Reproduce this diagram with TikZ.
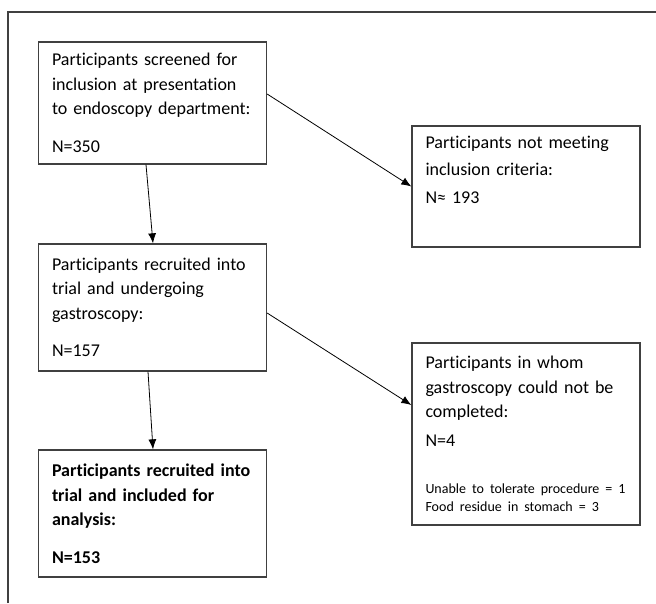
\documentclass[tikz,border=0pt]{standalone}
\usepackage{fontspec}
\setmainfont[Ligatures=NoCommon]{Carlito}
\usetikzlibrary{arrows.meta}
\definecolor{boxgray}{HTML}{404040}
\newcommand{\bigtext}{\fontsize{18}{24.5}\selectfont}
\newcommand{\smalltext}{\fontsize{14}{18}\selectfont}
\tikzset{
	box/.style={draw=boxgray, line width=1.3pt, rectangle, align=left,
		inner xsep=13.5pt, inner ysep=0pt, text width=201pt, font=\bigtext},
	flow/.style={->, line width=0.8pt, black},
}
\begin{document}
\begin{tikzpicture}[x=1pt,y=-1pt,>={Latex[length=10pt,width=8pt]}]
	\useasboundingbox (0,0) rectangle (656,603);
	\draw[boxgray,line width=1.2pt] (8,603) -- (8,12) -- (656,12);

	% left column
	\node[box,minimum height=122pt] (scr) at (152.5,103)
		{Participants screened for\\inclusion at presentation\\to endoscopy department:\\[13pt]N=350};
	\node[box,minimum height=127pt] (rec) at (152.5,307.5)
		{Participants recruited into\\trial and undergoing\\gastroscopy:\\[13pt]N=157};
	\node[box,minimum height=127pt,font=\bigtext\bfseries] (ana) at (152.5,513.5)
		{Participants recruited into\\trial and included for\\analysis:\\[13pt]N=153};

	% right column
	\node[box,minimum height=121pt] (excl) at (526,186.5)
		{Participants not meeting\\[2.5pt]inclusion criteria:\\[3pt]N≈ 193\\[9pt]\mbox{}};
	\node[box,minimum height=182pt] (fail) at (526,434)
		{Participants in whom\\gastroscopy could not be\\completed:\\[4pt]N=4\par\vspace{29pt}
		\smalltext\mbox{Unable to tolerate procedure = 1}\\\mbox{Food residue in stomach = 3}\par};

	\draw[flow] ([yshift=9pt]scr.east) -- (excl.west);
	\draw[flow] ([xshift=-6.5pt]scr.south) -- ([xshift=0.5pt]rec.north);
	\draw[flow] ([yshift=-5.5pt]rec.east) -- ([yshift=29pt]fail.west);
	\draw[flow] ([xshift=-4.5pt]rec.south) -- ([xshift=0.5pt]ana.north);
\end{tikzpicture}
\end{document}
